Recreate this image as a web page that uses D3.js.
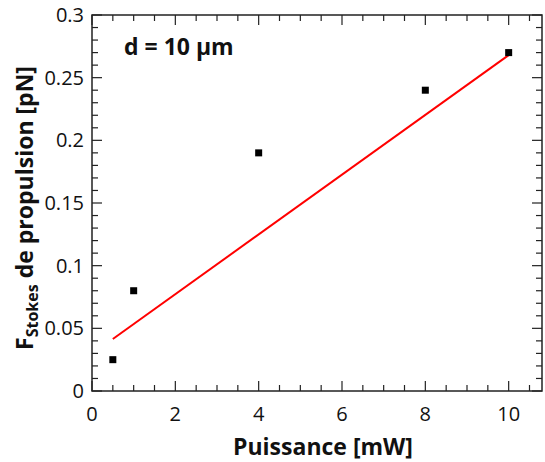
<!DOCTYPE html>
<html><head><meta charset="utf-8">
<script src="https://cdn.jsdelivr.net/npm/d3@7/dist/d3.min.js"></script>
<style>body{margin:0;background:#fff}svg{display:block}text{font-family:"Open Sans",sans-serif}</style>
</head><body><svg id="c" width="545" height="462"></svg>
<script>
const powerX = [0.5, 1, 4, 8, 10];
const forceY = [0.025, 0.08, 0.19, 0.24, 0.27];
const fitX = [0.5, 10];
const fitY = [0.0415, 0.268];
const xTicks = [0, 2, 4, 6, 8, 10];
const yTicks = [0, 0.05, 0.1, 0.15, 0.2, 0.25, 0.3];
const yTickLabels = ["0", "0.05", "0.1", "0.15", "0.2", "0.25", "0.3"];

const W = 545, H = 462;
const m = {l: 92, t: 15, r: 3, b: 71};
const svg = d3.select("#c");
const x = d3.scaleLinear().domain([0, 10.8]).range([m.l, W - m.r]);
const y = d3.scaleLinear().domain([0, 0.3]).range([H - m.b, m.t]);
const axisColor = "#222";

const xMinor = d3.range(0, 10.8001, 0.5);
const yMinor = d3.range(0, 0.3001, 0.01);

svg.append("rect").attr("x", m.l).attr("y", m.t)
  .attr("width", W - m.r - m.l).attr("height", H - m.b - m.t)
  .attr("fill", "none").attr("stroke", axisColor).attr("stroke-width", 1.5);

const g = svg.append("g").attr("stroke", axisColor).attr("stroke-width", 1.2);
const isMajorX = v => Math.abs(v / 2 - Math.round(v / 2)) < 1e-6;
const isMajorY = v => Math.abs(v / 0.05 - Math.round(v / 0.05)) < 1e-6;
xMinor.forEach(v => {
  const len = isMajorX(v) ? 10 : 6;
  g.append("line").attr("x1", x(v)).attr("x2", x(v)).attr("y1", y(0)).attr("y2", y(0) - len);
  g.append("line").attr("x1", x(v)).attr("x2", x(v)).attr("y1", y(0.3)).attr("y2", y(0.3) + len);
});
yMinor.forEach(v => {
  const len = isMajorY(v) ? 10 : 6;
  g.append("line").attr("y1", y(v)).attr("y2", y(v)).attr("x1", x(0)).attr("x2", x(0) + len);
  g.append("line").attr("y1", y(v)).attr("y2", y(v)).attr("x1", x(10.8)).attr("x2", x(10.8) - len);
});

svg.append("g").selectAll("text").data(xTicks).join("text")
  .attr("x", d => x(d)).attr("y", y(0) + 30).attr("text-anchor", "middle")
  .attr("font-size", 20).attr("fill", "#111").text(d => d);
svg.append("g").selectAll("text").data(yTicks).join("text")
  .attr("x", m.l - 8).attr("y", d => y(d) + 7).attr("text-anchor", "end")
  .attr("font-size", 20).attr("fill", "#111").text((d, i) => yTickLabels[i]);

svg.append("path").datum(fitX.map((v, i) => [v, fitY[i]]))
  .attr("d", d3.line().x(d => x(d[0])).y(d => y(d[1])))
  .attr("stroke", "#ff0000").attr("stroke-width", 2).attr("fill", "none");

svg.append("g").selectAll("rect").data(powerX.map((v, i) => [v, forceY[i]])).join("rect")
  .attr("x", d => x(d[0]) - 3.5).attr("y", d => y(d[1]) - 3.5)
  .attr("width", 7).attr("height", 7).attr("fill", "#000");

svg.append("text").attr("x", 124).attr("y", 55).attr("font-size", 23)
  .attr("font-weight", "bold").attr("fill", "#111").text("d = 10 µm");

svg.append("text").attr("x", 323).attr("y", 455).attr("text-anchor", "middle")
  .attr("font-size", 23).attr("font-weight", "bold").attr("fill", "#111").text("Puissance [mW]");

const yt = svg.append("text").attr("transform", `translate(33,208) rotate(-90)`)
  .attr("text-anchor", "middle").attr("font-size", 23).attr("font-weight", "bold").attr("fill", "#111");
yt.append("tspan").text("F");
yt.append("tspan").attr("font-size", 16).attr("dy", 5).text("Stokes");
yt.append("tspan").attr("dy", -5).text(" de propulsion [pN]");
</script></body></html>
